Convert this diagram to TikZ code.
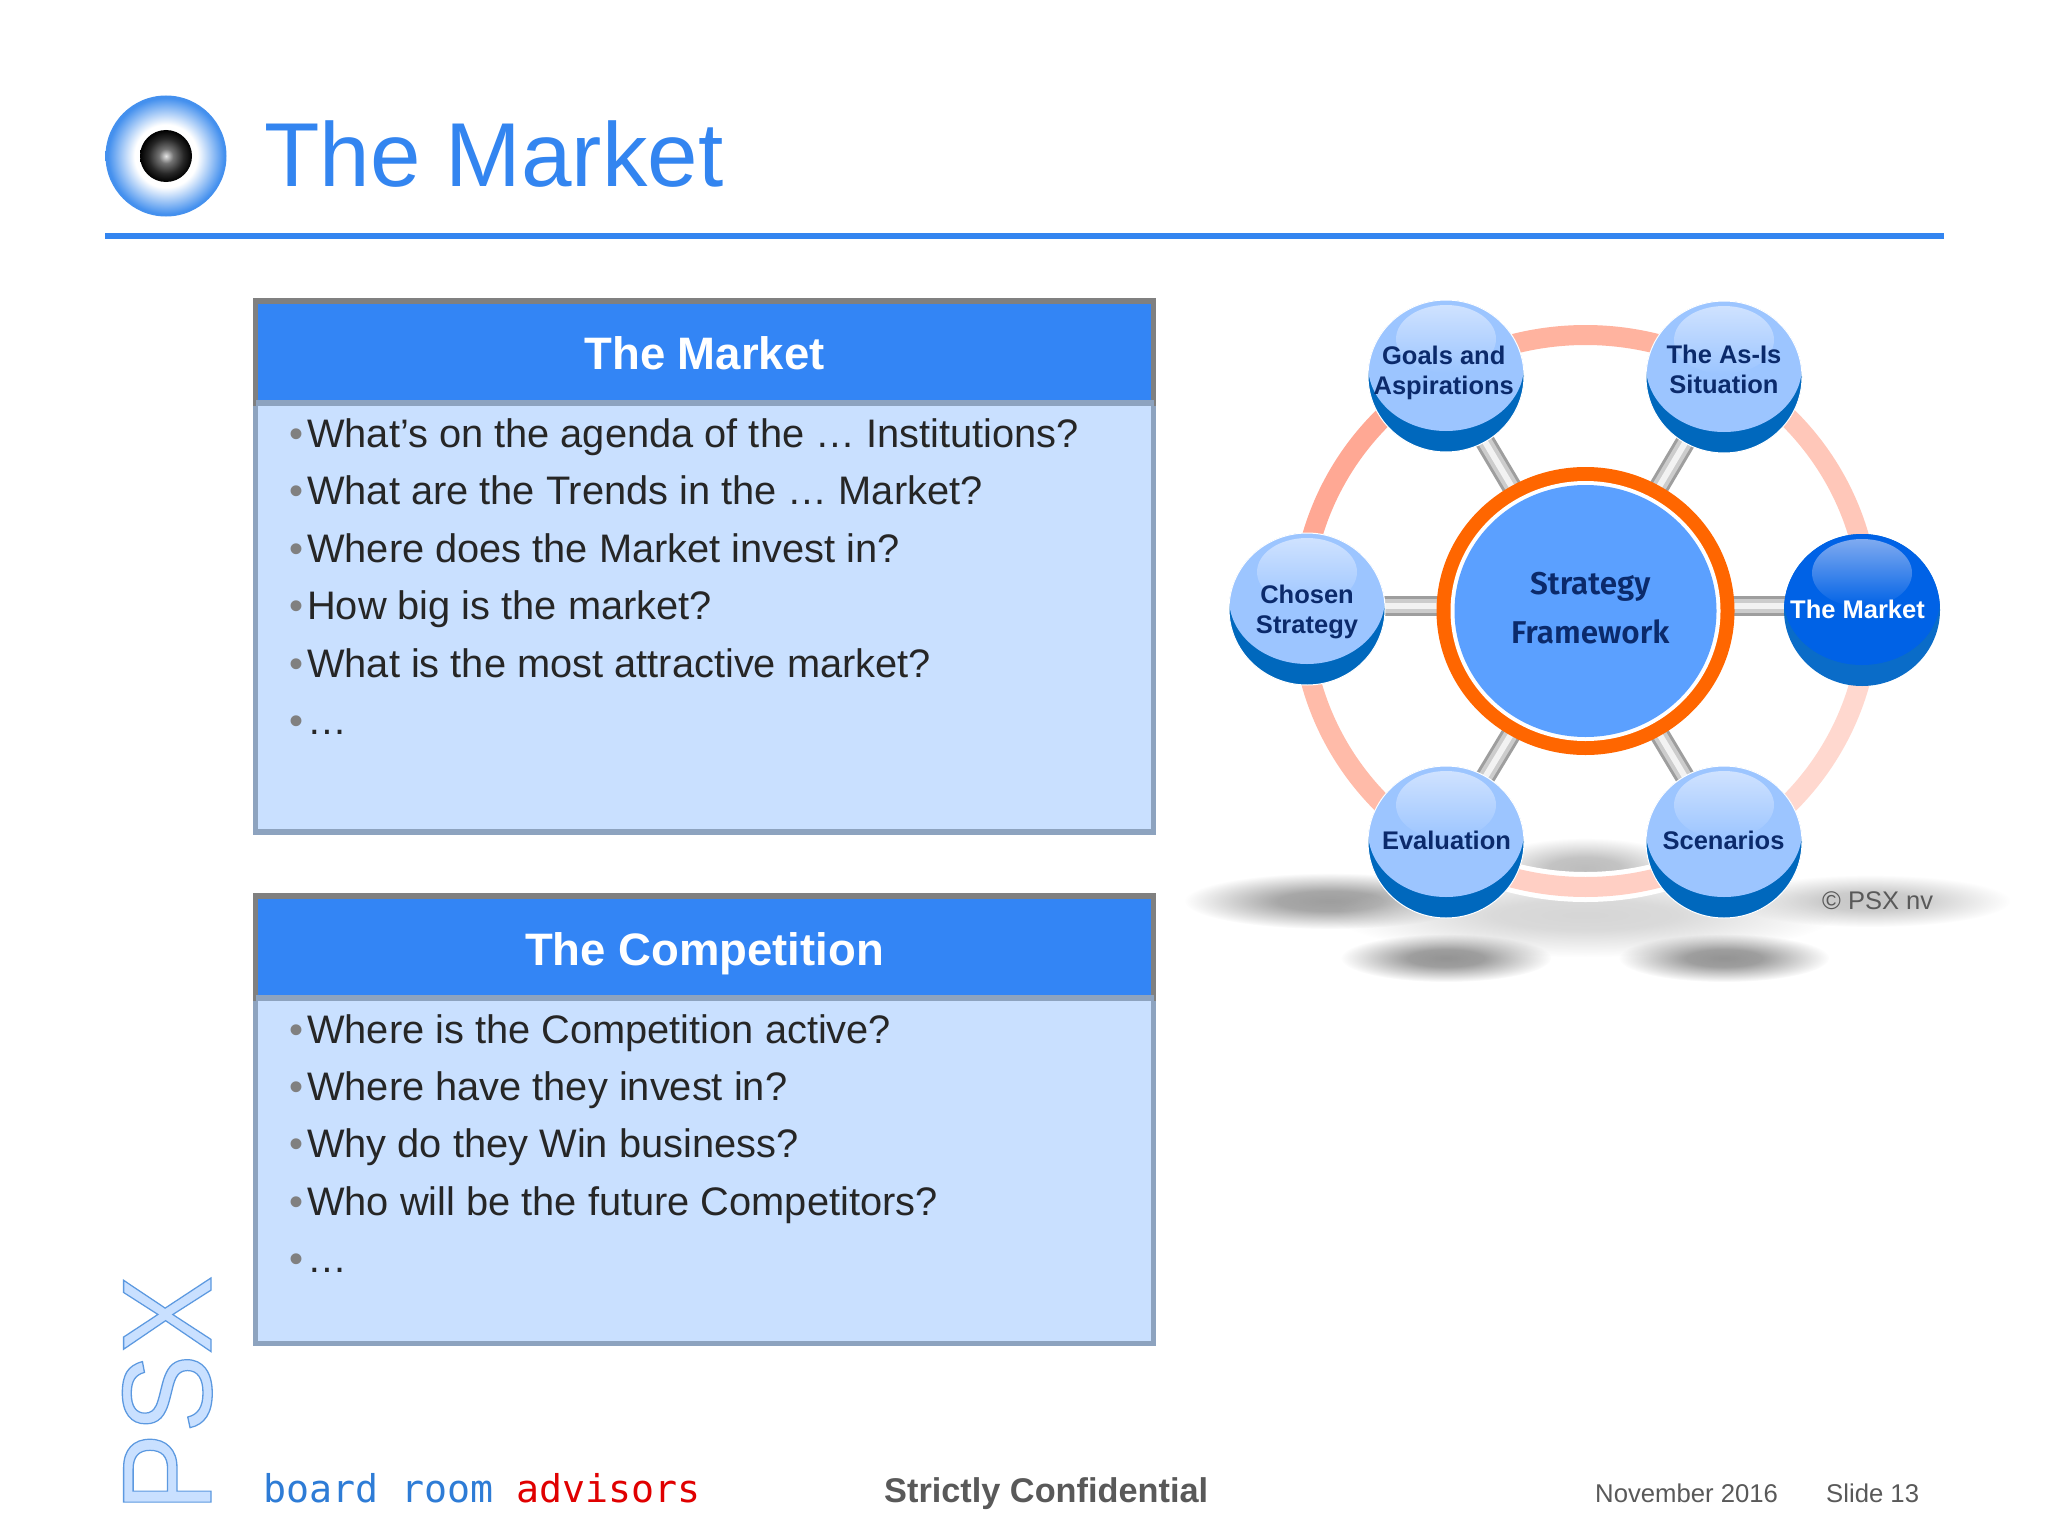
\documentclass[tikz,border=0pt]{standalone}
\usepackage{fontspec}
\setmainfont{Liberation Sans}
\newfontfamily\hubfont{Fira Sans SemiBold}
\newfontfamily\monofnt{DejaVu Sans Mono}
\usetikzlibrary{shapes.geometric,fadings,backgrounds}
\definecolor{titleblue}{HTML}{3385F0}
\definecolor{headblue}{HTML}{3385F5}
\definecolor{eyeblue}{HTML}{4490EE}
\definecolor{bodyblue}{HTML}{C9E0FF}
\definecolor{bodyedge}{HTML}{8DA3BF}
\definecolor{headedge}{HTML}{808080}
\definecolor{inktext}{HTML}{262626}
\definecolor{footgray}{HTML}{595959}
\definecolor{navy}{HTML}{0B2A6B}
\definecolor{satlight}{HTML}{9CC5FF}
\definecolor{satdark}{HTML}{0068BD}
\definecolor{sattop}{HTML}{CFE2FF}
\definecolor{mktbody}{HTML}{0062E6}
\definecolor{mktdark}{HTML}{0A6CC8}
\definecolor{mkttop}{HTML}{7FAAF0}
\definecolor{huborange}{HTML}{FF6600}
\definecolor{hubblue}{HTML}{5BA0FF}
\definecolor{advblue}{HTML}{2E7CD6}
\definecolor{advred}{HTML}{E00000}
\definecolor{ringa}{HTML}{FFB39F}
\definecolor{ringb}{HTML}{FFA894}
\definecolor{ringc}{HTML}{FFC7B9}
\definecolor{ringd}{HTML}{FFBBA9}
\definecolor{ringe}{HTML}{FFCFC4}
\definecolor{ringf}{HTML}{FFD8CF}
\newcommand\fs[1]{\fontsize{#1}{#1}\selectfont}
\newcommand\bul{\makebox[18pt][l]{\textcolor{headedge}{\fs{40}•}}}
% centred label that does not enlarge its node: dx, dy, lines
\newcommand\lbl[3]{\hspace*{#1pt}\makebox[0pt][c]{\raisebox{#2pt}[0pt][0pt]{\begin{tabular}{@{}c@{}}#3\end{tabular}}}}
\pgfdeclareradialshading{softfade}{\pgfpointorigin}{color(0bp)=(pgftransparent!0);color(9bp)=(pgftransparent!10);color(25bp)=(pgftransparent!100);color(50bp)=(pgftransparent!100)}
\pgfdeclarefading{softblob}{\pgfuseshading{softfade}}
\pgfdeclareradialshading{eyeouter}{\pgfpointorigin}{color(0bp)=(white);color(13bp)=(white);color(24bp)=(eyeblue);color(50bp)=(eyeblue)}
\pgfdeclareradialshading{eyeball}{\pgfpointorigin}{color(0bp)=(white!90!black);color(7bp)=(black!55);color(17bp)=(black!85);color(25bp)=(black);color(50bp)=(black)}
\tikzset{
  x=1pt,y=-1pt,
  headbox/.style={rectangle,outer sep=0,minimum width=898pt,minimum height=102pt,inner sep=0,fill=headblue,draw=headedge,line width=5.5pt},
  bodybox/.style={rectangle,outer sep=0,minimum width=898pt,inner sep=0,fill=bodyblue,draw=bodyedge,line width=5.5pt},
  item/.style={anchor=base west,inner sep=0,text=inktext,font=\fs{39.8}},
  sat/.style n args={3}{ellipse,minimum width=156pt,minimum height=152pt,inner sep=0,fill=#2,font=\bfseries\fs{25.5},
    path picture={
      \fill[#1] ([yshift=10.5pt]path picture bounding box.center) ellipse [x radius=78pt,y radius=65.5pt];
      \shade[top color=#3,bottom color=#1] ([yshift=37pt]path picture bounding box.center) ellipse [x radius=50pt,y radius=34pt];
    }},
  satnorm/.style={sat={satlight}{satdark}{sattop},text=navy,draw=white,line width=1pt},
  satmkt/.style={sat={mktbody}{mktdark}{mkttop},text=white},
  hubnode/.style={ellipse,minimum width=298pt,minimum height=288pt,inner sep=0,fill=huborange,text=navy,font=\hubfont\fs{31.5},
    path picture={
      \fill[white] (path picture bounding box.center) ellipse [x radius=135pt,y radius=130pt];
      \fill[hubblue] (path picture bounding box.center) ellipse [x radius=131pt,y radius=126pt];
    }},
  spoke/.style={draw=black!38,line width=20pt,shorten <=-3pt,shorten >=-3pt,
    postaction={draw=black!20,line width=14pt,shorten <=-3pt,shorten >=-3pt},
    postaction={draw=black!5,line width=6pt,shorten <=-3pt,shorten >=-3pt}},
  ringarc/.style={line width=20pt},
  blob/.style={fill=#1,path fading=softblob},
  foot/.style={anchor=base west,inner sep=0,text=footgray,font=\fs{25.7}},
}
\begin{document}
\begin{tikzpicture}
\useasboundingbox (0,0) rectangle (2048,1536);

% title
\node (eye) [circle,minimum size=121pt,inner sep=0,shading=eyeouter] at (166,156) {};
\node (pupil) [circle,minimum size=52pt,inner sep=0,shading=eyeball] at (eye.center) {};
\node (title) [anchor=base west,inner sep=0,text=titleblue,font=\fs{90.8}] at (264,186) {The Market};
\coordinate (ruleL) at (105,236);
\coordinate (ruleR) at (1944,236);
\draw[titleblue,line width=6pt] (ruleL) -- (ruleR);

% first panel
\node (b1) [bodybox,minimum height=429pt] at (704.5,617.5) {};
\node (h1) [headbox] at (704.5,352) {};
\node (h1t) [anchor=base,inner sep=0,text=white,font=\bfseries\fs{45.5}] at (704.5,369) {The Market};
\draw[bodyedge,line width=5.5pt] (h1.south west) -- (h1.south east);
\node (a1) [item] at (289,447) {\bul What’s on the agenda of the … Institutions?};
\node (a2) [item] at (289,504.5) {\bul What are the Trends in the … Market?};
\node (a3) [item] at (289,562) {\bul Where does the Market invest in?};
\node (a4) [item] at (289,619.5) {\bul How big is the market?};
\node (a5) [item] at (289,677) {\bul What is the most attractive market?};
\node (a6) [item] at (289,734.5) {\bul …};

% second panel
\node (b2) [bodybox,minimum height=345.5pt] at (704.5,1170.75) {};
\node (h2) [headbox] at (704.5,947) {};
\node (h2t) [anchor=base,inner sep=0,text=white,font=\bfseries\fs{45.5}] at (704.5,965) {The Competition};
\draw[bodyedge,line width=5.5pt] (h2.south west) -- (h2.south east);
\node (c1) [item] at (289,1043) {\bul Where is the Competition active?};
\node (c2) [item] at (289,1100.4) {\bul Where have they invest in?};
\node (c3) [item] at (289,1157.8) {\bul Why do they Win business?};
\node (c4) [item] at (289,1215.2) {\bul Who will be the future Competitors?};
\node (c5) [item] at (289,1272.6) {\bul …};

% strategy wheel
\coordinate (wc) at (1585.5,611);
\node (hub) [hubnode] at (wc) {\lbl{9.5}{-7.7}{Strategy\\[15.5pt]Framework}};
\node (goals) [satnorm] at (1446,376) {\lbl{-4.5}{-4}{Goals and\\[4.2pt]Aspirations}};
\node (asis) [satnorm] at (1724,377) {\lbl{0}{-2.6}{The As-Is\\[4.2pt]Situation}};
\node (market) [satmkt] at (1862,610) {\lbl{-9}{-9}{The Market}};
\node (chosen) [satnorm] at (1307,609) {\lbl{0}{-10.4}{Chosen\\[4.2pt]Strategy}};
\node (evalu) [satnorm] at (1446,842) {\lbl{1}{-8}{Evaluation}};
\node (scen) [satnorm] at (1724,842) {\lbl{-1}{-8}{Scenarios}};
\begin{scope}[on background layer]
  \fill[white] (0,0) rectangle (2048,1536);
  \fill[blob=black!38] (1330,901) ellipse [x radius=145pt,y radius=28pt];
  \fill[blob=black!22] (1870,901) ellipse [x radius=140pt,y radius=26pt];
  \fill[blob=black!26] (1585,868) ellipse [x radius=100pt,y radius=30pt];
  \fill[blob=black!16] (1585,915) ellipse [x radius=250pt,y radius=42pt];
  \fill[blob=black!42] (1446,958) ellipse [x radius=105pt,y radius=24pt];
  \fill[blob=black!42] (1724,958) ellipse [x radius=105pt,y radius=24pt];
  \draw[white,line width=30pt] ([shift={(245:284pt and 276pt)}]wc) arc[start angle=245,end angle=295,x radius=284pt,y radius=276pt];
  \draw[ringarc,color=ringa] ([shift={(60:284pt and 276pt)}]wc) arc[start angle=60,end angle=120,x radius=284pt,y radius=276pt];
  \draw[ringarc,color=ringb] ([shift={(120:284pt and 276pt)}]wc) arc[start angle=120,end angle=180,x radius=284pt,y radius=276pt];
  \draw[ringarc,color=ringc] ([shift={(0:284pt and 276pt)}]wc) arc[start angle=0,end angle=60,x radius=284pt,y radius=276pt];
  \draw[ringarc,color=ringd] ([shift={(180:284pt and 276pt)}]wc) arc[start angle=180,end angle=240,x radius=284pt,y radius=276pt];
  \draw[ringarc,color=ringe] ([shift={(240:284pt and 276pt)}]wc) arc[start angle=240,end angle=300,x radius=284pt,y radius=276pt];
  \draw[ringarc,color=ringf] ([shift={(300:284pt and 276pt)}]wc) arc[start angle=300,end angle=360,x radius=284pt,y radius=276pt];
  \draw[spoke] (hub) -- (goals);
  \draw[spoke] (hub) -- (asis);
  \draw[spoke] ([yshift=5pt]hub.east) -- ([yshift=5pt]hub.east -| market.west);
  \draw[spoke] ([yshift=5pt]hub.west) -- ([yshift=5pt]hub.west -| chosen.east);
  \draw[spoke] (hub) -- (evalu);
  \draw[spoke] (hub) -- (scen);
\end{scope}
\node (copy) [foot,font=\fs{25.5}] at (1822,909) {© PSX nv};

% footer
\node (psx) [anchor=base west,inner sep=0,rotate=90,font=\fs{127}] at (211,1512) {\scalebox{0.93}[1]{\color{bodyblue}\special{pdf:code 2 Tr 1.3 w 0.36 0.6 0.88 RG}PSX\special{pdf:code 0 Tr}}};
\node (brand) [anchor=base west,inner sep=0,font=\monofnt\fs{38.25}] at (263,1502) {\textcolor{advblue}{board room} \textcolor{advred}{advisors}};
\node (conf) [anchor=base west,inner sep=0,text=footgray,font=\bfseries\fs{34.3}] at (884,1502) {Strictly Confidential};
\node (date) [foot] at (1595,1502) {November 2016};
\node (slide) [foot] at (1826,1502) {Slide 13};
\end{tikzpicture}
\end{document}
